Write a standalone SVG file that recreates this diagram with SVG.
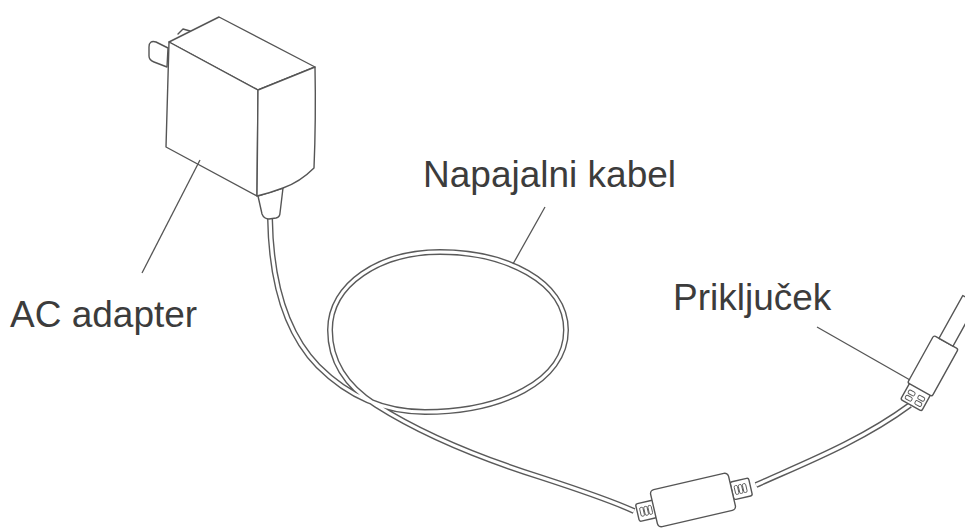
<svg xmlns="http://www.w3.org/2000/svg" width="965" height="529" viewBox="0 0 965 529">
  <style>
    .ln { fill: none; stroke: #555; stroke-width: 1.4; stroke-linejoin: round; stroke-linecap: round; }
    .part { fill: #fff; stroke: #555; stroke-width: 1.4; stroke-linejoin: round; }
    .wire-out { fill: none; stroke: #5a5a5a; stroke-width: 6; stroke-linecap: butt; }
    .wire-in { fill: none; stroke: #fff; stroke-width: 3.2; stroke-linecap: butt; }
    .lead { fill: none; stroke: #555; stroke-width: 1.3; }
    .lbl { font-family: "Liberation Sans", Arial, sans-serif; font-size: 37px; fill: #3c3c3c; }
    .slot { fill: none; stroke: #555; stroke-width: 0.9; }
  </style>
  <defs>
    <path id="cord-main" d="M270,218 C271,280 285,332 318,366 C348,396 385,412 425,412 C500,412 566,382 566,330 C566,281 505,252 440,252 C380,252 330,284 330,330 C330,362 346,386 376,405 C420,433 480,458 540,477 C580,490 610,500 634,511"/>
    <path id="cord-end" d="M756,485 C800,465 860,442 910,405"/>
  </defs>

  <!-- power cord: one continuous cable, drawn as a double line -->
  <g id="cable">
    <use href="#cord-main" class="wire-out"/>
    <use href="#cord-main" class="wire-in"/>
    <use href="#cord-end" class="wire-out"/>
    <use href="#cord-end" class="wire-in"/>
  </g>

  <!-- wall adapter -->
  <g id="adapter">
    <!-- plug prongs -->
    <path class="part" d="M168,48 L156,42 Q149,40 149,47 L149,56 Q149,60 154,62 L167,67 Z"/>
    <path class="ln" d="M178,34 L183,29 L190,31"/>
    <!-- strain relief -->
    <path class="part" d="M258,196 L262,214 Q264,219 269,219 L276,218 Q280,217 280,213 L283,188 Z"/>
    <!-- top face -->
    <path class="part" d="M169,42 L219,17 L315,67 L258,90 Z"/>
    <!-- front face -->
    <path class="part" d="M169,42 L258,90 L257,196 L166,147 Z"/>
    <!-- side face -->
    <path class="part" d="M258,90 L315,67 Q316,120 314,168 Q300,182 283,188 Q270,193 257,196 Z"/>
  </g>

  <!-- ferrite bead -->
  <g id="ferrite" transform="translate(693,500) rotate(-13)">
    <rect class="part" x="-57" y="-9" width="18" height="18" rx="2"/>
    <rect class="slot" x="-54" y="-4.5" width="3.4" height="9" rx="1.5"/>
    <rect class="slot" x="-49.8" y="-4.5" width="3.4" height="9" rx="1.5"/>
    <rect class="slot" x="-45.6" y="-4.5" width="3.4" height="9" rx="1.5"/>
    <rect class="part" x="40" y="-9" width="19" height="18" rx="2"/>
    <rect class="slot" x="43" y="-4.5" width="3.4" height="9" rx="1.5"/>
    <rect class="slot" x="47.2" y="-4.5" width="3.4" height="9" rx="1.5"/>
    <rect class="slot" x="51.4" y="-4.5" width="3.4" height="9" rx="1.5"/>
    <rect class="part" x="-40" y="-19" width="80" height="38" rx="4"/>
  </g>

  <!-- DC plug -->
  <g id="connector" transform="translate(914,400) rotate(-61)">
    <rect class="part" x="-6" y="-12" width="19" height="24" rx="2"/>
    <rect class="slot" x="-3" y="-9" width="4" height="7" rx="1.5"/>
    <rect class="slot" x="3" y="-9" width="4" height="7" rx="1.5"/>
    <rect class="slot" x="-3" y="2" width="4" height="7" rx="1.5"/>
    <rect class="slot" x="3" y="2" width="4" height="7" rx="1.5"/>
    <rect class="part" x="12" y="-14" width="54" height="28" rx="2"/>
    <path class="part" d="M66,-8 L115,-8 L115,8 L66,8 Z"/>
  </g>

  <!-- callouts -->
  <g id="label-adapter">
    <line class="lead" x1="200" y1="160" x2="142" y2="273"/>
    <text class="lbl" x="10" y="327">AC adapter</text>
  </g>
  <g id="label-cable">
    <line class="lead" x1="545" y1="207" x2="513" y2="264"/>
    <text class="lbl" x="423" y="187">Napajalni kabel</text>
  </g>
  <g id="label-plug">
    <line class="lead" x1="817" y1="327" x2="910" y2="380"/>
    <text class="lbl" x="673" y="310">Priključek</text>
  </g>
</svg>
